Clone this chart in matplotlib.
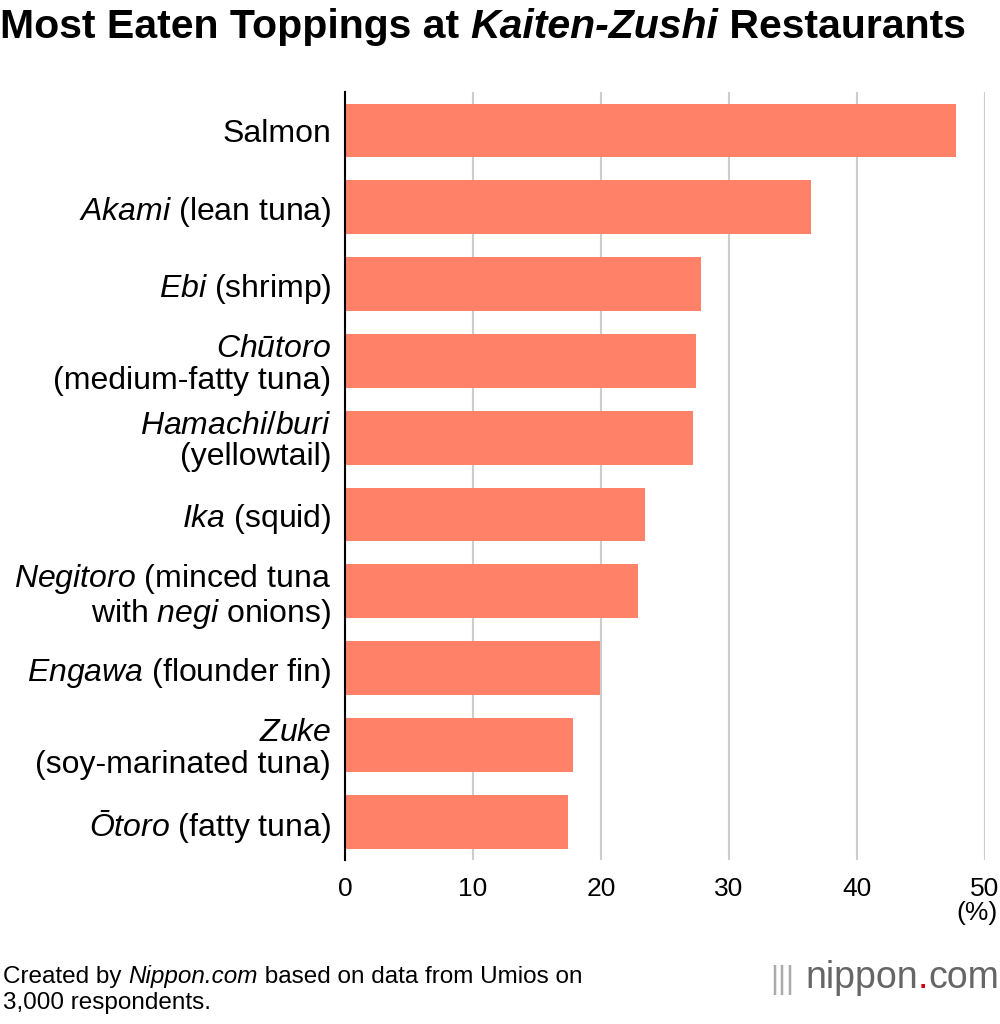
import matplotlib
matplotlib.use("Agg")
import matplotlib.pyplot as plt
import numpy as np

plt.rcParams['font.family'] = ['Liberation Sans', 'DejaVu Sans']
plt.rcParams['mathtext.fontset'] = 'custom'
plt.rcParams['mathtext.rm'] = 'Liberation Sans'
plt.rcParams['mathtext.it'] = 'Liberation Sans:italic'
plt.rcParams['mathtext.bf'] = 'Liberation Sans:bold'

labels = ['Salmon',
          r'$\mathit{Akami}$ (lean tuna)',
          r'$\mathit{Ebi}$ (shrimp)',
          '$\\mathit{Chūtoro}$\n(medium-fatty tuna)',
          '$\\mathit{Hamachi/buri}$\n(yellowtail)',
          r'$\mathit{Ika}$ (squid)',
          '$\\mathit{Negitoro}$ (minced tuna\nwith $\\mathit{negi}$ onions)',
          r'$\mathit{Engawa}$ (flounder fin)',
          '$\\mathit{Zuke}$\n(soy-marinated tuna)',
          r'$\mathit{Ōtoro}$ (fatty tuna)']
values = [47.7, 36.4, 27.8, 27.4, 27.2, 23.4, 22.9, 19.9, 17.8, 17.4]

fig = plt.figure(figsize=(10, 10.24), dpi=100)
ax = fig.add_axes([0.345, 0.16, 0.64, 0.75])
y = np.arange(len(values))
ax.barh(y, values, height=0.7, color='#ff8168', zorder=2)
ax.set_ylim(len(values) - 0.5, -0.5)
ax.set_xlim(0, 50)
ax.set_xticks(range(0, 51, 10))
ax.set_yticks(y)
ax.set_yticklabels(labels, fontsize=23, linespacing=1.05)
ax.tick_params(length=0, pad=10)
ax.tick_params(axis='x', labelsize=19, pad=12)
for s in ['top', 'right', 'bottom']:
    ax.spines[s].set_visible(False)
ax.spines['left'].set_linewidth(1.5)
ax.grid(axis='x', color='#cccccc', linewidth=1.5, zorder=0)
ax.set_axisbelow(True)
fig.text(0.998, 0.102, '(%)', ha='right', fontsize=19)

fig.canvas.draw()
r = fig.canvas.get_renderer()


def pieces(x0, y0, parts, **kw):
    for txt, st, c in parts:
        t = fig.text(x0, y0, txt, style=st, color=c, va='baseline', **kw)
        x0 = t.get_window_extent(r).x1 / fig.bbox.width


pieces(0.0, 0.963, [('Most Eaten Toppings at ', 'normal', 'black'),
                    ('Kaiten-Zushi', 'italic', 'black'),
                    (' Restaurants', 'normal', 'black')], fontsize=29.5, fontweight='bold')

pieces(0.003, 0.04, [('Created by ', 'normal', 'black'), ('Nippon.com', 'italic', 'black'),
                     (' based on data from Umios on', 'normal', 'black')], fontsize=17.5)
fig.text(0.003, 0.015, '3,000 respondents.', fontsize=17.5, va='baseline')

pieces(0.805, 0.035, [('nippon', 'normal', '#666666'), ('.', 'normal', '#d0021b'),
                      ('com', 'normal', '#666666')], fontsize=27)
fig.text(0.77, 0.035, '|||', fontsize=22, color='#aaaaaa', va='baseline')

fig.savefig('out.png', dpi=100)
